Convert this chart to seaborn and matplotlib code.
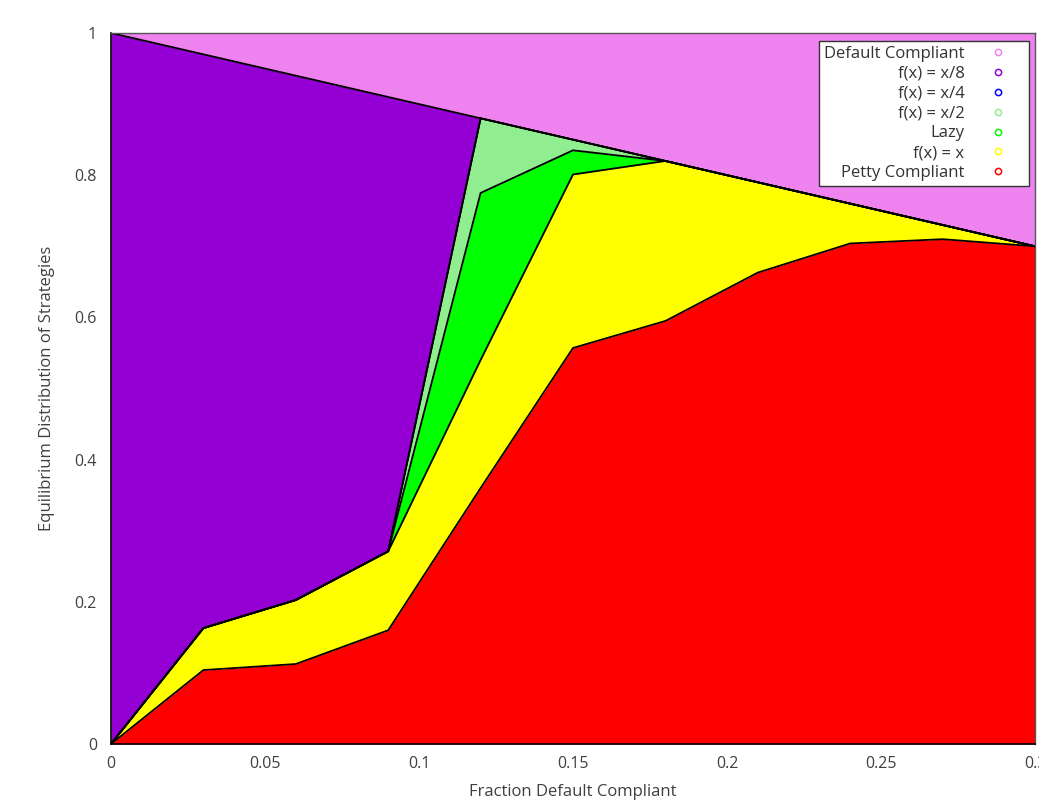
import numpy as np
import matplotlib.pyplot as plt
import seaborn as sns
from matplotlib.lines import Line2D

# fraction of default compliant players (x axis)
frac = [0.0, 0.03, 0.06, 0.09, 0.12, 0.15, 0.18, 0.21, 0.24, 0.27, 0.30]

# equilibrium share of each strategy, bottom to top of the stack
petty = [0.0, 0.104, 0.1125, 0.160, 0.36, 0.557, 0.595, 0.663, 0.704, 0.710, 0.700]
fx_x = [0.0, 0.059, 0.090, 0.111, 0.18, 0.244, 0.225, 0.127, 0.056, 0.020, 0.0]
lazy = [0.0, 0.0, 0.0, 0.0, 0.235, 0.034, 0.0, 0.0, 0.0, 0.0, 0.0]
fx_half = [0.0, 0.0, 0.0, 0.0, 0.105, 0.015, 0.0, 0.0, 0.0, 0.0, 0.0]
fx_quarter = [0.0, 0.0, 0.0, 0.0, 0.0, 0.0, 0.0, 0.0, 0.0, 0.0, 0.0]
fx_eighth = [1.0, 0.807, 0.7375, 0.639, 0.0, 0.0, 0.0, 0.0, 0.0, 0.0, 0.0]
default = [0.0, 0.03, 0.06, 0.09, 0.12, 0.15, 0.18, 0.21, 0.24, 0.27, 0.30]

labels = ['Petty Compliant', 'f(x) = x', 'Lazy', 'f(x) = x/2',
          'f(x) = x/4', 'f(x) = x/8', 'Default Compliant']
colors = ['#ff0000', '#ffff00', '#00ff00', '#90ee90',
          '#0000ff', '#9400d3', '#ee82ee']

xticks = [0, 0.05, 0.1, 0.15, 0.2, 0.25, 0.3]
xticklabels = ['0', '0.05', '0.1', '0.15', '0.2', '0.25', '0.3']
yticks = [0, 0.2, 0.4, 0.6, 0.8, 1.0]
yticklabels = ['0', '0.2', '0.4', '0.6', '0.8', '1']

sns.set_theme(style="white")
plt.rcParams['font.family'] = ['Open Sans', 'DejaVu Sans']

fig = plt.figure(figsize=(10.39, 8.02), dpi=100)
ax = fig.add_axes([111 / 1039, 1 - 744 / 802, 924 / 1039, 711 / 802])

layers = [petty, fx_x, lazy, fx_half, fx_quarter, fx_eighth, default]
ax.stackplot(frac, layers, colors=colors, linewidth=0)

# black outline along every layer boundary
cum = np.cumsum(np.array(layers), axis=0)
for row in cum[:-1]:
    sns.lineplot(x=frac, y=row, color='black', linewidth=1.3, ax=ax,
                 solid_joinstyle='miter')

ax.set_xlim(0, 0.3)
ax.set_ylim(0, 1)
ax.set_xticks(xticks)
ax.set_xticklabels(xticklabels)
ax.set_yticks(yticks)
ax.set_yticklabels(yticklabels)
ax.tick_params(axis='both', length=0, labelsize=11.5, colors='#404040')
ax.tick_params(axis='x', pad=9)
ax.tick_params(axis='y', pad=10)

for side in ['left', 'bottom']:
    ax.spines[side].set_color('black')
    ax.spines[side].set_linewidth(1.2)
for side in ['top', 'right']:
    ax.spines[side].set_color('#555555')
    ax.spines[side].set_linewidth(1.0)

ax.set_xlabel('Fraction Default Compliant', fontsize=12, color='#404040',
              labelpad=8)
ax.set_ylabel('Equilibrium Distribution of Strategies', fontsize=12,
              color='#404040', labelpad=14)

handles = [Line2D([], [], linestyle='none', marker='o', markersize=4.5,
                  markerfacecolor='none', markeredgecolor=c, markeredgewidth=1.1)
           for c in colors]
leg = ax.legend(handles[::-1], labels[::-1], loc='upper right',
                bbox_to_anchor=(0.9935, 0.9887), borderaxespad=0,
                markerfirst=False, fancybox=False, framealpha=1,
                edgecolor='#333333', fontsize=12, labelspacing=0.23,
                handlelength=3.1, handletextpad=0.47, borderpad=0.3)
leg.get_frame().set_linewidth(1.0)
for t in leg.get_texts():
    t.set_color('#333333')

fig.savefig('out.png', dpi=100)
